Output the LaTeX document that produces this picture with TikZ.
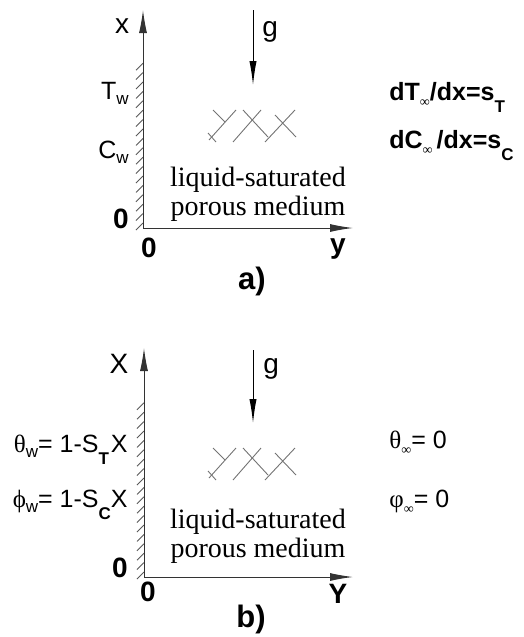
\documentclass[tikz,border=0pt]{standalone}
\usepackage{fontspec}
\setmainfont{Liberation Sans}
\newfontfamily\timesfont{Liberation Serif}
\usetikzlibrary{arrows.meta, calc}
\tikzset{
    labelnode/.style = {draw=none, fill=none, rectangle, inner sep=0em, font=\fontsize{12.5}{14}\selectfont},
    axisnode/.style = {labelnode, font=\fontsize{14}{16}\selectfont},
    formulanode/.style = {labelnode, font=\fontsize{12.5}{14}\selectfont\bfseries},
    boldnode/.style = {labelnode, font=\fontsize{14}{16}\selectfont\bfseries},
    captionnode/.style = {labelnode, font=\fontsize{15.5}{17}\selectfont\bfseries},
    mediumnode/.style = {draw=none, fill=none, rectangle, inner sep=0em, align=center,
      font=\timesfont\fontsize{14}{14.5}\selectfont},
    axis/.style = {black!80, line width=0.5pt, -{Latex[length=11.5pt, width=4pt]}},
    gravity/.style = {black, line width=0.5pt, -{Latex[length=12pt, width=3.6pt]}},
    hatch/.style = {black!65, line width=0.45pt},
    pore/.style = {black!55, line width=0.45pt}
}
\newcommand{\wsub}[1]{\raisebox{-0.2em}{\fontsize{8.5}{8.5}\selectfont #1}}
\newcommand{\lowsub}[1]{\raisebox{-0.48em}{\fontsize{8.5}{8.5}\selectfont\bfseries #1}}
\newcommand{\infsub}{\raisebox{-0.25em}{\timesfont\fontsize{7}{7}\selectfont\mdseries ∞}}
\newcommand{\grk}[1]{{\timesfont #1}}
\newcommand{\wallhatch}[3]{\foreach \k in {0,...,#3} \draw[hatch] (#1-7,#2+2-9.4*\k) -- ++(7,-7);}
\newcommand{\porecrosses}[1]{
  \begin{scope}[shift={(0,#1)}]
    \draw[pore] (213,110) -- (225,122);
    \draw[pore] (208,133) -- (216,142);
    \draw[pore] (209,140) -- (236,110);
    \draw[pore] (233,142) -- (261,110);
    \draw[pore] (243,110) -- (268,137);
    \draw[pore] (265,142) -- (295,110);
    \draw[pore] (275,115) -- (296,137);
  \end{scope}
}

\begin{document}
\begin{tikzpicture}[x=0.5pt, y=-0.5pt]
\useasboundingbox (0,0) rectangle (524,637);

% a)
\coordinate (OriginA) at (143,228);
\coordinate (TopA) at (143,10);
\coordinate (RightA) at (353,228);
\coordinate (GStartA) at (253,10);
\coordinate (GTipA) at (253,85);
\wallhatch{143}{228}{17}
\draw[axis] (OriginA) -- (TopA);
\draw[axis] (OriginA) -- (RightA);
\draw[gravity] (GStartA) -- (GTipA);
\porecrosses{0}

\node [axisnode, name=AxisLabelA, anchor=base] at (122,33) {x};
\node [labelnode, name=WallTA, anchor=base east] at (129,99) {T\wsub{w}};
\node [labelnode, name=WallCA, anchor=base east] at (129,158) {C\wsub{w}};
\node [boldnode, name=ZeroLeftA] at (121,219) {0};
\node [boldnode, name=ZeroBelowA] at (149,248) {0};
\node [boldnode, name=AxisYA] at (338,249) {y};
\node [captionnode, name=CaptionA] at (252,281) {a)};
\node [axisnode, name=GravityA, anchor=base west] at (262,36) {g};
\node [mediumnode, name=MediumA] at (258,194) {liquid-saturated\\porous medium};
\node [formulanode, name=GradTA, anchor=base west] at (389,100) {dT\infsub/dx=s\lowsub{T}};
\node [formulanode, name=GradCA, anchor=base west] at (389,148) {dC\infsub\kern2pt/dx=s\lowsub{C}};

% b)
\coordinate (OriginB) at (144,577);
\coordinate (TopB) at (144,348);
\coordinate (RightB) at (353,577);
\coordinate (GStartB) at (253,350);
\coordinate (GTipB) at (253,423);
\wallhatch{144}{577}{18}
\draw[axis] (OriginB) -- (TopB);
\draw[axis] (OriginB) -- (RightB);
\draw[gravity] (GStartB) -- (GTipB);
\porecrosses{338}

\node [axisnode, name=AxisLabelB, anchor=base] at (119,373) {X};
\node [labelnode, name=WallThetaB, anchor=base east] at (128,452) {\grk{θ}\wsub{w}= 1-S\lowsub{T}\kern1pt X};
\node [labelnode, name=WallPhiB, anchor=base east] at (128,507) {\grk{ϕ}\wsub{w}= 1-S\lowsub{C}X};
\node [boldnode, name=ZeroLeftB] at (120,568) {0};
\node [boldnode, name=ZeroBelowB] at (148,592) {0};
\node [boldnode, name=AxisYB] at (338,594) {Y};
\node [captionnode, name=CaptionB] at (251,619) {b)};
\node [axisnode, name=GravityB, anchor=base west] at (263,373) {g};
\node [mediumnode, name=MediumB] at (258,536) {liquid-saturated\\porous medium};
\node [labelnode, name=FarThetaB, anchor=base west] at (389,448) {\grk{θ}\infsub= 0};
\node [labelnode, name=FarPhiB, anchor=base west] at (389,507) {\grk{φ}\infsub= 0};
\end{tikzpicture}
\end{document}
